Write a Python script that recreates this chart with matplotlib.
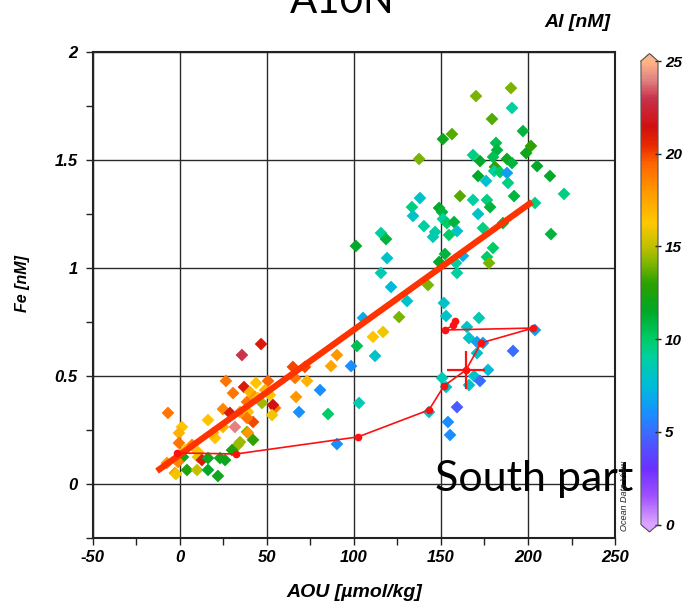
import numpy as np
import matplotlib
matplotlib.use('Agg')
import matplotlib.pyplot as plt
from matplotlib.colors import LinearSegmentedColormap, Normalize
from matplotlib.ticker import MultipleLocator

plt.rcParams['axes.unicode_minus'] = False

# === data ===
aou = [26.4, 36.8, 43.7, 50.6, 30.5, 40.2, 43.1, 38.5, 44.8, 47.1, 54.6, 53.4, 24.7, 28.7,
       34.5, 39.1, 42.0, 38.5, 52.9, -6.9, 16.1, 31.6, 24.7, 20.1, 19.0, 38.5, 39.1, 42.0,
       34.5, 33.3, 29.9, 1.1, -0.6, -0.6, 6.9, 2.9, 10.3, 1.7, 10.3, 12.6, 16.1, 23.0, 25.9,
       -7.5, -2.9, -1.1, 4.0, 9.8, 16.1, 21.8, 35.6, 46.6, 51.7, 48.9, -2.3,
       101.1, 115.5, 118.4, 119.0, 115.5, 121.3, 130.5, 125.9, 105.2, 116.7, 110.9, 101.7,
       112.1, 90.2, 86.8, 98.3, 64.9, 71.8, 66.1, 73.0, 80.5, 66.7, 68.4, 85.1, 102.9, 90.2,
       151.7, 152.9, 171.8, 164.9, 166.1, 170.7, 174.1, 170.7, 191.4, 204.0, 177.0, 169.0,
       172.4, 166.1, 150.6, 152.9, 143.1, 159.2, 154.0, 155.2,
       190.2, 170.1, 190.8, 179.3, 197.1, 156.3, 151.1, 201.7, 198.9, 181.6, 182.2, 137.4,
       168.4, 172.4, 179.9, 187.9, 190.8, 181.0, 180.5, 183.9, 187.9, 205.2, 212.6, 171.3,
       175.9, 188.5, 220.7, 192.0, 160.9, 204.0, 176.4, 178.2, 168.4, 148.9, 150.6, 137.9,
       133.3, 133.9, 171.3, 151.1, 153.4, 157.5, 140.2, 159.2, 154.6, 174.1, 185.6, 146.6,
       145.4, 213.2, 179.9, 176.4, 177.6, 162.6, 152.3, 148.9, 158.6, 159.2, 142.5]
fe = [0.477, 0.449, 0.468, 0.477, 0.421, 0.426, 0.403, 0.380, 0.398, 0.375, 0.352, 0.366,
      0.347, 0.329, 0.333, 0.333, 0.287, 0.306, 0.319, 0.329, 0.296, 0.264, 0.264, 0.213,
      0.236, 0.241, 0.236, 0.204, 0.194, 0.181, 0.157, 0.264, 0.236, 0.190, 0.181, 0.157,
      0.148, 0.125, 0.125, 0.111, 0.120, 0.120, 0.111, 0.097, 0.051, 0.102, 0.065, 0.065,
      0.065, 0.037, 0.597, 0.648, 0.412, 0.435, 0.046,
      1.102, 1.162, 1.134, 1.046, 0.977, 0.912, 0.847, 0.773, 0.769, 0.704, 0.681, 0.639,
      0.593, 0.597, 0.546, 0.546, 0.542, 0.542, 0.491, 0.477, 0.435, 0.403, 0.333, 0.324,
      0.375, 0.185,
      0.838, 0.778, 0.769, 0.727, 0.676, 0.657, 0.653, 0.606, 0.616, 0.713, 0.528, 0.500,
      0.477, 0.458, 0.491, 0.449, 0.333, 0.356, 0.287, 0.227,
      1.833, 1.796, 1.741, 1.690, 1.634, 1.620, 1.597, 1.565, 1.532, 1.579, 1.546, 1.505,
      1.523, 1.495, 1.514, 1.505, 1.486, 1.468, 1.449, 1.444, 1.440, 1.472, 1.426, 1.426,
      1.403, 1.394, 1.343, 1.333, 1.333, 1.301, 1.315, 1.282, 1.315, 1.278, 1.259, 1.324,
      1.282, 1.241, 1.250, 1.227, 1.208, 1.213, 1.194, 1.171, 1.153, 1.185, 1.208, 1.167,
      1.144, 1.157, 1.093, 1.051, 1.023, 1.056, 1.065, 1.028, 1.023, 0.977, 0.921]
al = [19, 21, 16.5, 19.5, 19, 17, 18, 19, 16.5, 14.5, 19, 21.5, 18.5, 21,
      18, 16.5, 20, 19, 16, 19, 16.5, 24, 17, 16.5, 17, 14, 18, 13,
      14.5, 14.5, 12.5, 16.5, 17, 19, 18.5, 16.5, 16.5, 12, 16, 21, 12, 12, 12,
      18, 18, 18.5, 12.5, 15, 11.5, 12, 23, 21, 16.5, 17, 16,
      11.5, 9, 11, 8, 8.5, 7.5, 8, 14, 7, 16, 16.5, 10.5,
      8, 18, 17.5, 6, 20, 20, 19, 17, 6, 18, 6, 10, 8.5, 6,
      8, 8, 8.5, 8, 8, 6.5, 6.5, 8, 5, 6.5, 7.5, 8,
      5, 8, 8.5, 8, 8, 4.5, 6, 6,
      14, 14, 9, 13.5, 11, 13.5, 12, 13, 12, 10.5, 11, 14,
      9.5, 11.5, 10.5, 12, 11, 13, 9, 10, 6.5, 11.5, 11.5, 11.5,
      8, 9.5, 9.5, 11, 13.5, 9.5, 9.5, 11, 9, 11.5, 11, 8,
      9.5, 8, 8, 9, 10, 11, 9, 8, 10, 9.5, 11, 9,
      8.5, 11, 10, 10, 14, 7, 11, 11.5, 9, 9, 14]

fit_x = [-13.2, 202.3]
fit_y = [0.06, 1.306]

south_x = [-1.7, 32.2, 102.3, 143.1, 151.7, 164.4, 173.0, 202.9, 152.3, 157.0, 158.0]
south_y = [0.144, 0.139, 0.218, 0.343, 0.454, 0.528, 0.653, 0.722, 0.713, 0.735, 0.755]
mean_x, mean_y = 164.4, 0.528
mean_xerr, mean_yerr = 11.0, 0.09

# ODV-like rainbow
stops = [(0, '#dba4ff'), (1.5, '#a050ff'), (3, '#6a30ff'), (4.5, '#4a5cff'), (6, '#1890ff'),
         (7.5, '#00bcd8'), (9, '#00d0a0'), (10, '#00cc66'), (11.5, '#00a828'), (13, '#2ca000'),
         (14, '#78b400'), (15, '#c0c000'), (16.3, '#ffc800'), (18, '#ff9800'), (19.5, '#ff6400'),
         (20.5, '#e82800'), (21.5, '#d01010'), (23, '#c8304a'), (24, '#e08080'), (25, '#ffb488')]
cmap = LinearSegmentedColormap.from_list('odv', [(v / 25, c) for v, c in stops])
norm = Normalize(0, 25)

fig = plt.figure(figsize=(6.98, 6.09), dpi=100, facecolor='white')
ax = fig.add_axes([0.1332, 0.1166, 0.7479, 0.798])
ax.set_xlim(-50, 250)
ax.set_ylim(-0.25, 2)

sc = ax.scatter(aou, fe, c=al, cmap=cmap, norm=norm, marker='D', s=42,
                edgecolors='none', zorder=3)
ax.plot(fit_x, fit_y, color='#ff3300', lw=4.5, solid_capstyle='butt', zorder=4)
ax.plot(south_x, south_y, color='#ff1010', lw=1.2, marker='o', ms=4.5, zorder=5)
ax.errorbar(mean_x, mean_y, xerr=mean_xerr, yerr=mean_yerr, color='#ff1010',
            elinewidth=1.6, capsize=0, fmt='none', zorder=5)

ax.xaxis.set_major_locator(MultipleLocator(50))
ax.xaxis.set_minor_locator(MultipleLocator(25))
ax.yaxis.set_major_locator(MultipleLocator(0.5))
ax.yaxis.set_minor_locator(MultipleLocator(0.25))
ax.set_yticks([0, 0.5, 1, 1.5, 2])
ax.set_yticklabels(['0', '0.5', '1', '1.5', '2'])
ax.grid(True, which='major', color='#2a2a2a', lw=1.0)
ax.set_axisbelow(True)
tick_font = dict(family='Liberation Sans', weight='bold', style='italic', size=12)
for lab in ax.get_xticklabels() + ax.get_yticklabels():
    lab.set(**tick_font)
ax.tick_params(which='both', direction='out', length=5, width=1, color='#222222')
ax.tick_params(axis='y', pad=6)
ax.tick_params(axis='x', pad=4)
for s in ax.spines.values():
    s.set_color('#222222')
    s.set_linewidth(1.5)

ax.set_xlabel('AOU [µmol/kg]', family='Liberation Sans', weight='bold',
              style='italic', size=14)
ax.set_ylabel('Fe [nM]', family='Liberation Sans', weight='bold',
              style='italic', size=11.5)
ax.xaxis.set_label_coords(0.5, -0.095)
ax.yaxis.set_label_coords(-0.12, 0.523)

# colorbar
cax = fig.add_axes([0.9183, 0.1265, 0.0244, 0.7855])
cb = fig.colorbar(sc, cax=cax, extend='both', extendfrac=0.016)
cb.set_ticks([0, 5, 10, 15, 20, 25])
cb.outline.set_edgecolor('#555555')
cb.outline.set_linewidth(0.8)
cax.tick_params(length=4, width=1, direction='inout', color='#222222', pad=3)
for lab in cax.get_yticklabels():
    lab.set(family='Liberation Sans', weight='bold', style='italic', size=11)

fig.text(0.874, 0.963, 'Al [nM]', ha='right', va='center', family='Liberation Sans',
         weight='bold', style='italic', size=14)
fig.text(0.49, 0.979, 'A10N', ha='center', va='baseline', family='Lato', size=29)
fig.text(0.623, 0.214, 'South part', ha='left', va='center', family='Lato', size=31)
fig.text(0.895, 0.185, 'Ocean Data View', rotation=90, ha='center', va='center',
         family='Liberation Sans', style='italic', size=6.5, color='#222222')

fig.savefig('out.png', dpi=100, facecolor='white')
